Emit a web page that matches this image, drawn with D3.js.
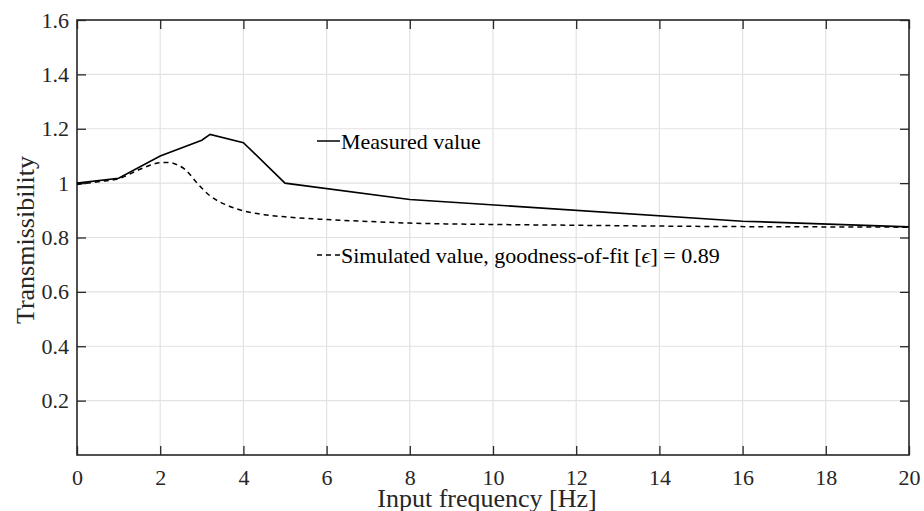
<!DOCTYPE html>
<html>
<head>
<meta charset="utf-8">
<script src="https://cdn.jsdelivr.net/npm/d3@7"></script>
<style>
  html, body { margin: 0; padding: 0; background: #fff; }
  svg { display: block; }
  svg text { font-family: "Liberation Serif", "Times New Roman", serif; fill: #262626; }
</style>
</head>
<body>
<svg id="chart" width="924" height="511"></svg>
<script>
// Measured transmissibility (frequency in Hz)
const measuredFreq = [0, 1, 2, 3, 3.2, 4, 5, 8, 16, 20];
const measuredValue = [1.0, 1.018, 1.1, 1.158, 1.179, 1.149, 1.0, 0.94, 0.86, 0.839];

// Simulated transmissibility from the model
const simulatedFreq = [0, 0.5, 1, 1.5, 1.8, 2.0, 2.2, 2.4, 2.6, 2.9, 3.2, 3.6, 4, 4.5, 5, 6, 7, 8, 10, 12, 14, 16, 18, 20];
const simulatedValue = [0.995, 1.005, 1.016, 1.05, 1.068, 1.075, 1.076, 1.068, 1.05, 0.998, 0.953, 0.919, 0.898, 0.884, 0.876, 0.866, 0.859, 0.853, 0.848, 0.845, 0.842, 0.840, 0.839, 0.838];

const xTicks = [0, 2, 4, 6, 8, 10, 12, 14, 16, 18, 20];
const yTicks = [0.2, 0.4, 0.6, 0.8, 1.0, 1.2, 1.4, 1.6];

const seriesLabels = ["Measured value", "Simulated value, goodness-of-fit [", "\u03F5", "] = 0.89"];
const xLabel = "Input frequency [Hz]";
const yLabel = "Transmissibility";

const FONT = "'Liberation Serif', 'Times New Roman', serif";

const svg = d3.select("#chart");
const margin = { left: 77, right: 15, top: 20, bottom: 55 };
const W = 924, H = 511;
const x = d3.scaleLinear().domain([0, 20]).range([margin.left, W - margin.right]);
const y = d3.scaleLinear().domain([0, 1.6]).range([H - margin.bottom - 1, margin.top]);

const axisColor = "#262626";
const gridColor = "#e2e2e2";
const tickLen = 9;

// grid
const grid = svg.append("g");
grid.selectAll("line.gx").data(xTicks.slice(1, -1)).join("line")
  .attr("x1", d => x(d)).attr("x2", d => x(d))
  .attr("y1", y(0)).attr("y2", y(1.6))
  .attr("stroke", gridColor).attr("stroke-width", 1.2);
grid.selectAll("line.gy").data(yTicks.slice(0, -1)).join("line")
  .attr("x1", x(0)).attr("x2", x(20))
  .attr("y1", d => y(d)).attr("y2", d => y(d))
  .attr("stroke", gridColor).attr("stroke-width", 1.2);

// axes with inward ticks on all four sides
function styleAxis(g) {
  g.attr("font-family", FONT).attr("font-size", 22);
  g.select(".domain").remove();
  g.selectAll(".tick line").attr("stroke", axisColor).attr("stroke-width", 1.3);
  g.selectAll(".tick text").attr("fill", axisColor)
    .style("font-size", "22px").style("font-family", FONT);
}
const fmtY = d => (d === 1 ? "1" : d3.format(".1f")(d));

svg.append("g").attr("transform", `translate(0,${y(0)})`)
  .call(d3.axisBottom(x).tickValues(xTicks).tickSize(-tickLen).tickPadding(14).tickFormat(d3.format("d")))
  .call(styleAxis);
svg.append("g").attr("transform", `translate(0,${y(1.6)})`)
  .call(d3.axisTop(x).tickValues(xTicks).tickSize(-tickLen).tickFormat(""))
  .call(styleAxis);
svg.append("g").attr("transform", `translate(${x(0)},0)`)
  .call(d3.axisLeft(y).tickValues(yTicks).tickSize(-tickLen).tickPadding(8).tickFormat(fmtY))
  .call(styleAxis);
svg.append("g").attr("transform", `translate(${x(20)},0)`)
  .call(d3.axisRight(y).tickValues(yTicks).tickSize(-tickLen).tickFormat(""))
  .call(styleAxis);

// box
svg.append("rect")
  .attr("x", x(0)).attr("y", y(1.6))
  .attr("width", x(20) - x(0)).attr("height", y(0) - y(1.6))
  .attr("fill", "none").attr("stroke", axisColor).attr("stroke-width", 1.6);

// series
const measured = measuredFreq.map((f, i) => [f, measuredValue[i]]);
const simulated = simulatedFreq.map((f, i) => [f, simulatedValue[i]]);

svg.append("path").datum(simulated)
  .attr("fill", "none").attr("stroke", "#000").attr("stroke-width", 1.5)
  .attr("stroke-dasharray", "5,4")
  .attr("d", d3.line().x(d => x(d[0])).y(d => y(d[1])).curve(d3.curveMonotoneX));

svg.append("path").datum(measured)
  .attr("fill", "none").attr("stroke", "#000").attr("stroke-width", 1.6)
  .attr("d", d3.line().x(d => x(d[0])).y(d => y(d[1])));

// legend labels
const leg = svg.append("g");
leg.append("line").attr("x1", 317).attr("x2", 340).attr("y1", 141).attr("y2", 141)
  .attr("stroke", "#000").attr("stroke-width", 1.5);
leg.append("text").attr("x", 341).attr("y", 149).style("font-size", "22px").style("fill", "#000")
  .text(seriesLabels[0]);
leg.append("line").attr("x1", 317).attr("x2", 340).attr("y1", 255).attr("y2", 255)
  .attr("stroke", "#000").attr("stroke-width", 1.5).attr("stroke-dasharray", "5,4");
const t2 = leg.append("text").attr("x", 341).attr("y", 263).style("font-size", "22px").style("fill", "#000");
t2.append("tspan").text(seriesLabels[1]);
t2.append("tspan").style("font-style", "italic").text(seriesLabels[2]);
t2.append("tspan").text(seriesLabels[3]);

// axis titles
svg.append("text").attr("x", 487).attr("y", 507).attr("text-anchor", "middle")
  .style("font-size", "26px").text(xLabel);
svg.append("text").attr("transform", "translate(34,240) rotate(-90)").attr("text-anchor", "middle")
  .style("font-size", "26px").text(yLabel);
</script>
</body>
</html>
